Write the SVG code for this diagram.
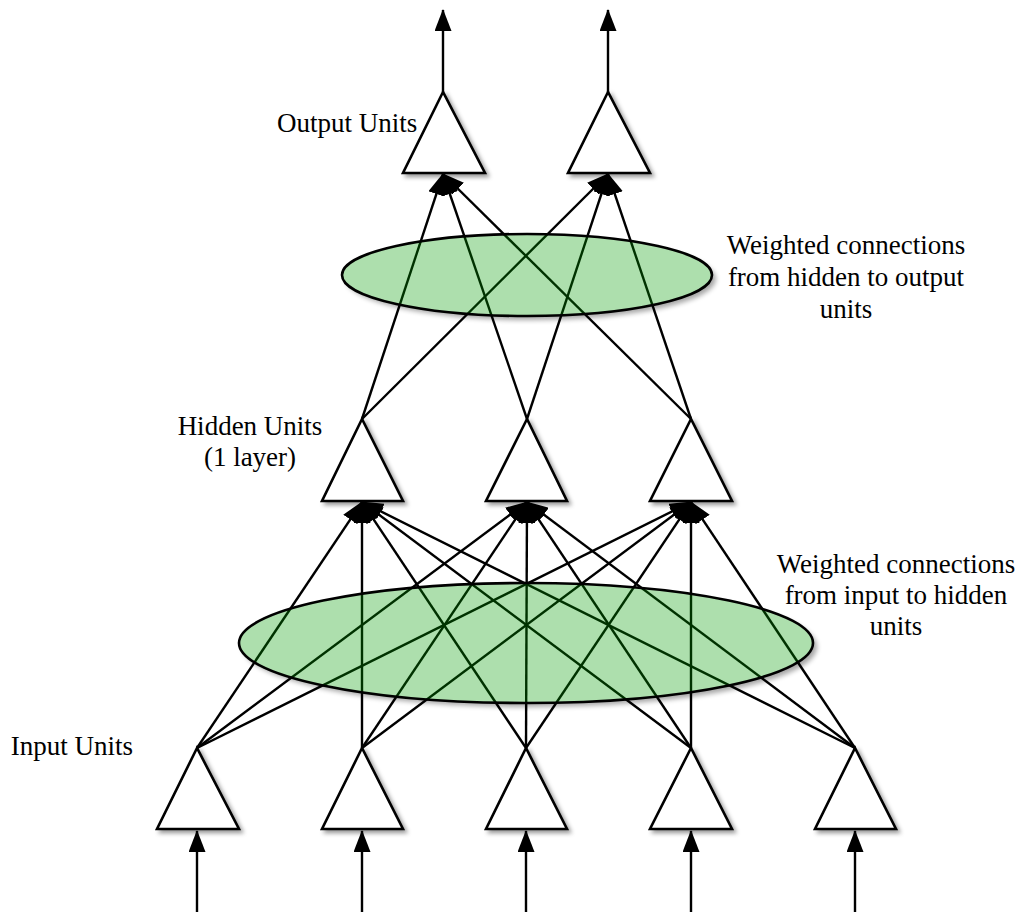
<svg xmlns="http://www.w3.org/2000/svg" width="1021" height="912" viewBox="0 0 1021 912">
  <style>
    .unit { fill: #ffffff; stroke: #000000; stroke-width: 2.6; stroke-linejoin: miter; filter: url(#shadow); }
    .wire { stroke: #000000; stroke-width: 2.4; fill: none; marker-end: url(#head); }
    .bundle { fill: #009c00; fill-opacity: 0.32; stroke: #000000; stroke-width: 2.6; }
    .backing { fill: #ffffff; }
    .halo { fill: #000000; opacity: 0.35; filter: url(#blur); }
    .label { font-family: "Liberation Serif", "Times New Roman", serif; font-size: 27px; fill: #000000; }
  </style>
  <defs>
    <filter id="shadow" x="-20%" y="-20%" width="150%" height="150%">
      <feDropShadow dx="3" dy="3" stdDeviation="2" flood-color="#000000" flood-opacity="0.4"/>
    </filter>
    <filter id="blur" x="-20%" y="-40%" width="140%" height="180%">
      <feGaussianBlur stdDeviation="2.5"/>
    </filter>
    <marker id="head" markerUnits="userSpaceOnUse" markerWidth="22" markerHeight="17" viewBox="0 0 22 17" refX="21" refY="8.5" orient="auto">
      <path d="M0,0 L22,8.5 L0,17 Z" fill="#000000"/>
    </marker>
  </defs>

  <rect width="1021" height="912" fill="#ffffff"/>

  <!-- soft shadows and white backing under the two weight ellipses -->
  <g id="ellipse-backing">
    <ellipse class="halo" cx="531" cy="279" rx="185" ry="41"/>
    <ellipse class="backing" cx="527" cy="275" rx="185" ry="41"/>
    <ellipse class="halo" cx="530" cy="647" rx="287" ry="60"/>
    <ellipse class="backing" cx="526" cy="643" rx="287" ry="60"/>
  </g>

  <!-- connectors -->
  <g id="connectors">
    <!-- external inputs -->
    <line class="wire" x1="197" y1="912" x2="197" y2="831"/>
    <line class="wire" x1="362" y1="912" x2="362" y2="831"/>
    <line class="wire" x1="526" y1="912" x2="526" y2="831"/>
    <line class="wire" x1="691" y1="912" x2="691" y2="831"/>
    <line class="wire" x1="855" y1="912" x2="855" y2="831"/>
    <!-- input layer to hidden layer -->
    <line class="wire" x1="197" y1="748" x2="362" y2="502"/>
    <line class="wire" x1="197" y1="748" x2="527" y2="502"/>
    <line class="wire" x1="197" y1="748" x2="691" y2="502"/>
    <line class="wire" x1="362" y1="748" x2="362" y2="502"/>
    <line class="wire" x1="362" y1="748" x2="527" y2="502"/>
    <line class="wire" x1="362" y1="748" x2="691" y2="502"/>
    <line class="wire" x1="526" y1="748" x2="362" y2="502"/>
    <line class="wire" x1="526" y1="748" x2="527" y2="502"/>
    <line class="wire" x1="526" y1="748" x2="691" y2="502"/>
    <line class="wire" x1="691" y1="748" x2="362" y2="502"/>
    <line class="wire" x1="691" y1="748" x2="527" y2="502"/>
    <line class="wire" x1="691" y1="748" x2="691" y2="502"/>
    <line class="wire" x1="855" y1="748" x2="362" y2="502"/>
    <line class="wire" x1="855" y1="748" x2="527" y2="502"/>
    <line class="wire" x1="855" y1="748" x2="691" y2="502"/>
    <!-- hidden layer to output layer -->
    <line class="wire" x1="362" y1="419" x2="443" y2="174"/>
    <line class="wire" x1="362" y1="419" x2="608" y2="174"/>
    <line class="wire" x1="527" y1="419" x2="443" y2="174"/>
    <line class="wire" x1="527" y1="419" x2="608" y2="174"/>
    <line class="wire" x1="691" y1="419" x2="443" y2="174"/>
    <line class="wire" x1="691" y1="419" x2="608" y2="174"/>
    <!-- outputs -->
    <line class="wire" x1="443" y1="92" x2="443" y2="10"/>
    <line class="wire" x1="608" y1="92" x2="608" y2="10"/>
  </g>

  <!-- weight ellipses -->
  <g id="weights-hidden-output">
    <ellipse class="bundle" cx="527" cy="275" rx="185" ry="41"/>
    <text class="label" x="846" y="254" text-anchor="middle">Weighted connections</text>
    <text class="label" x="846" y="286" text-anchor="middle">from hidden to output</text>
    <text class="label" x="846" y="318" text-anchor="middle">units</text>
  </g>
  <g id="weights-input-hidden">
    <ellipse class="bundle" cx="526" cy="643" rx="287" ry="60"/>
    <text class="label" x="896" y="573" text-anchor="middle">Weighted connections</text>
    <text class="label" x="896" y="604" text-anchor="middle">from input to hidden</text>
    <text class="label" x="896" y="635" text-anchor="middle">units</text>
  </g>

  <!-- output units -->
  <g id="output-units">
    <polygon id="out1" class="unit" points="443,92 403,173 485,173"/>
    <polygon id="out2" class="unit" points="608,92 568,173 650,173"/>
    <text class="label" x="277" y="132">Output Units</text>
  </g>

  <!-- hidden units -->
  <g id="hidden-units">
    <polygon id="hid1" class="unit" points="362,419 322,501 403,501"/>
    <polygon id="hid2" class="unit" points="527,419 486,501 567,501"/>
    <polygon id="hid3" class="unit" points="691,419 650,501 732,501"/>
    <text class="label" x="250" y="435" text-anchor="middle">Hidden Units</text>
    <text class="label" x="250" y="466" text-anchor="middle">(1 layer)</text>
  </g>

  <!-- input units -->
  <g id="input-units">
    <polygon id="in1" class="unit" points="197,748 157,829 239,829"/>
    <polygon id="in2" class="unit" points="362,748 322,829 403,829"/>
    <polygon id="in3" class="unit" points="526,748 486,829 567,829"/>
    <polygon id="in4" class="unit" points="691,748 650,829 732,829"/>
    <polygon id="in5" class="unit" points="855,748 815,829 896,829"/>
    <text class="label" x="133" y="755" text-anchor="end">Input Units</text>
  </g>
</svg>
